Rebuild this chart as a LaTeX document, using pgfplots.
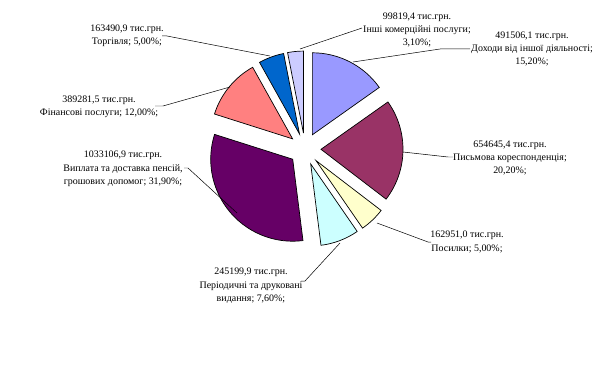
\documentclass[border=0pt]{standalone}
\usepackage{pgfplots}
\usepackage{pgfplotstable}
\pgfplotsset{compat=1.18}
\usepackage{fontspec}
\setmainfont{Liberation Serif}
\definecolor{cA}{HTML}{9999FF}
\definecolor{cB}{HTML}{993366}
\definecolor{cC}{HTML}{FFFFCC}
\definecolor{cD}{HTML}{CCFFFF}
\definecolor{cE}{HTML}{660066}
\definecolor{cF}{HTML}{FF8080}
\definecolor{cG}{HTML}{0066CC}
\definecolor{cH}{HTML}{CCCCFF}
% share of each item, %, clockwise from 12 o'clock
\pgfplotstableread[col sep=comma]{
pct,col
15.2,cA
20.2,cB
5.0,cC
7.6,cD
31.9,cE
12.0,cF
5.0,cG
3.1,cH
}\piedata
\begin{document}
\begin{tikzpicture}
\begin{axis}[hide axis, scale only axis, width=595bp, height=384bp,
  xmin=0, xmax=595, ymin=0, ymax=384, y dir=reverse, enlargelimits=false, clip=false]
\def\cum{0}
\pgfplotsforeachungrouped \i in {0,...,7}{%
  \pgfplotstablegetelem{\i}{pct}\of\piedata \let\slp\pgfplotsretval
  \pgfplotstablegetelem{\i}{col}\of\piedata \let\slc\pgfplotsretval
  \pgfmathsetmacro\tA{\cum*3.6}%
  \pgfmathsetmacro\tB{(\cum+\slp)*3.6}%
  \pgfmathsetmacro\tM{(\tA+\tB)/2}%
  \pgfmathsetmacro\ox{305+16*sin(\tM)}%
  \pgfmathsetmacro\oy{149-16*cos(\tM)}%
  \pgfmathsetmacro\aA{90-\tA}%
  \pgfmathsetmacro\aB{90-\tB}%
  \edef\doslice{\noexpand\filldraw[fill=\slc, draw=black, line width=0.7pt, line join=miter] (axis cs:\ox,\oy) -- ++(\aA:82bp) arc[start angle=\aA, end angle=\aB, radius=82bp] -- cycle;}%
  \doslice
  \pgfmathsetmacro\cum{\cum+\slp}%
}
\tikzset{lbl/.style={align=center, font=\fontsize{10}{13.5}\selectfont, inner sep=0pt}}
% labels
\node[lbl] at (axis cs:417,30) {99819,4 тис.грн.\\Інші комерційні послуги;\\3,10\%;};
\node[lbl, anchor=east] (dh) at (axis cs:593,49) {491506,1 тис.грн.\\Доходи від іншої діяльності;\\15,20\%;};
\node[lbl] at (axis cs:510,158) {654645,4 тис.грн.\\Письмова кореспонденція;\\20,20\%;};
\node[lbl] at (axis cs:467,242) {162951,0 тис.грн.\\Посилки; 5,00\%;};
\node[lbl] at (axis cs:251,286) {245199,9 тис.грн.\\Періодичні та друковані\\видання; 7,60\%;};
\node[lbl] at (axis cs:123,169) {1033106,9 тис.грн.\\Виплата та доставка пенсій,\\грошових допомог; 31,90\%;};
\node[lbl] at (axis cs:99,106.5) {389281,5 тис.грн.\\Фінансові послуги; 12,00\%;};
\node[lbl] at (axis cs:127,36) {163490,9 тис.грн.\\Торгівля; 5,00\%;};
% leader lines
\draw[line width=0.5pt] (axis cs:362,28) -- (axis cs:300,49);
\draw[line width=0.5pt] ([xshift=-1bp]dh.west) -- ++(-30bp,0) -- (axis cs:353,62);
\draw[line width=0.5pt] (axis cs:403,152) -- (axis cs:448,157) -- (axis cs:453,157);
\draw[line width=0.5pt] (axis cs:377,223) -- (axis cs:428,242) -- (axis cs:431,242);
\draw[line width=0.5pt] (axis cs:340,243) -- (axis cs:305,281) -- (axis cs:301,281);
\draw[line width=0.5pt] (axis cs:184,168) -- (axis cs:188,168) -- (axis cs:237,213);
\draw[line width=0.5pt] (axis cs:155,106) -- (axis cs:163,106) -- (axis cs:230,87);
\draw[line width=0.5pt] (axis cs:162,36) -- (axis cs:167,36) -- (axis cs:270,56);
\end{axis}
\pgfresetboundingbox
\path[use as bounding box] (current axis.south west) rectangle (current axis.north east);
\end{tikzpicture}
\end{document}
